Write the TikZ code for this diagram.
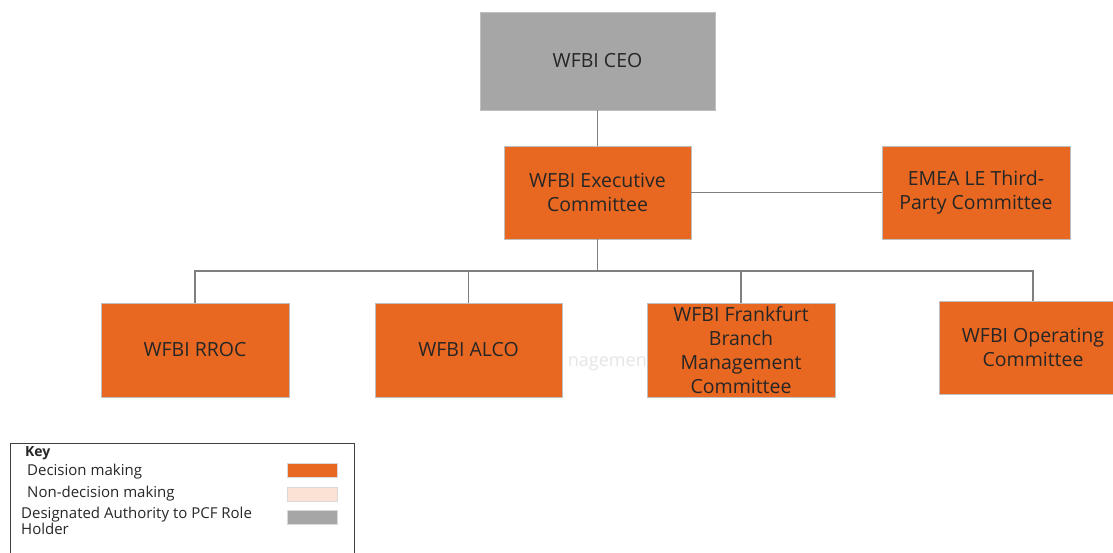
\documentclass[tikz,border=0pt]{standalone}
\usepackage{fontspec}
\setmainfont{Open Sans}
\definecolor{dorange}{HTML}{E96821}
\definecolor{ceogray}{HTML}{A6A6A6}
\definecolor{peach}{HTML}{FBE2D5}
\definecolor{linegray}{HTML}{7F7F7F}
\definecolor{txt}{HTML}{262626}
\begin{document}
\begin{tikzpicture}[x=1pt,y=-1pt,
  box/.style={draw=black!25,line width=0.8pt,fill=dorange,text=txt,font=\fontsize{19.5}{24}\selectfont,align=center,inner sep=0pt},
  conn/.style={draw=linegray,line width=1.5pt},
  keytxt/.style={anchor=west,text=txt,font=\fontsize{15}{16}\selectfont,inner sep=0pt},
  swatch/.style={draw=black!15,line width=0.5pt,minimum width=50pt,minimum height=14pt,inner sep=0pt}]
\useasboundingbox (0,0) rectangle (1113,553);
% boxes
\node[box,fill=ceogray,minimum width=235pt,minimum height=98pt] (ceo) at (597.5,61) {WFBI CEO};
\node[box,minimum width=187pt,minimum height=93pt] (exec) at (597.5,192.5) {WFBI Executive\\Committee};
\node[box,minimum width=188pt,minimum height=93pt] (emea) at (976,192.5) {EMEA LE Third-\\Party Committee};
\node[box,minimum width=188pt,minimum height=94pt] (rroc) at (195,350) {WFBI RROC};
\node[box,minimum width=187pt,minimum height=94pt] (alco) at (468.5,350) {WFBI ALCO};
\node[box,minimum width=188pt,minimum height=94pt] (fbmc) at (741,350) {WFBI Frankfurt\\Branch\\Management\\Committee};
\node[box,minimum width=188pt,minimum height=93pt] (opc) at (1033,347.5) {WFBI Operating\\Committee};
\node[text=black!10,font=\fontsize{18}{20}\selectfont,inner sep=0pt,anchor=east] (ghost) at (647,364) {nagemen};
% connectors
\coordinate (bar) at (597.5,271);
\draw[conn] (ceo.south) -- (exec.north);
\draw[conn] (exec.east) -- (emea.west);
\draw[conn] (exec.south) -- (bar);
\draw[conn] (rroc.north) -- (rroc.north |- bar) -- (opc.north |- bar) -- (opc.north);
\draw[conn] (alco.north |- bar) -- (alco.north);
\draw[conn] (fbmc.north |- bar) -- (fbmc.north);
% key
\node[draw=black!75,line width=1pt,minimum width=344pt,minimum height=115pt,inner sep=0pt,anchor=north west] (keybox) at (10,443) {};
\node[keytxt,font=\fontsize{14}{16}\selectfont\bfseries] (keyt) at (25,453) {Key};
\node[keytxt] (k1) at (27,472) {Decision making};
\node[keytxt] (k2) at (27,494) {Non-decision making};
\node[keytxt,align=left,anchor=north west] (k3) at (21,507) {Designated Authority to PCF Role\\Holder};
\node[swatch,fill=dorange] (s1) at (312,470) {};
\node[swatch,fill=peach] (s2) at (312,494) {};
\node[swatch,fill=ceogray] (s3) at (312,517) {};
\end{tikzpicture}
\end{document}
